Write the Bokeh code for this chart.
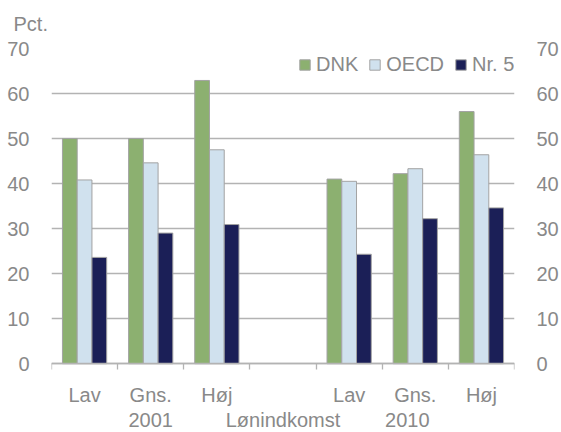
from bokeh.plotting import figure
from bokeh.models import (FixedTicker, LinearAxis, Legend, LegendItem,
                          Range1d, ColumnDataSource, Grid)
from bokeh.embed import file_html
from bokeh.resources import INLINE

# ---- data ----
categories = ["Lav", "Gns.", "Høj", "", "Lav", "Gns.", "Høj"]
dnk = [50.0, 50.0, 62.9, None, 41.0, 42.2, 56.0]
oecd = [40.8, 44.6, 47.5, None, 40.5, 43.3, 46.4]
nr5 = [23.6, 29.0, 30.9, None, 24.3, 32.2, 34.6]
series_names = ["DNK", "OECD", "Nr. 5"]
group_labels = ["2001", "Lønindkomst", "2010"]
y_ticks = [0, 10, 20, 30, 40, 50, 60, 70]
y_label = "Pct."

# ---- styles ----
FONT = "Liberation Sans"
FS = "20px"
TXT = "#898989"
GRID = "#b3b3b3"
colors = ["#8cb070", "#d0e1ee", "#1b1f57"]
bar_w = 0.223
offsets = [-bar_w, 0.0, bar_w]
group_pos = [1.5, 3.5, 5.38]
y_min = -15.29  # extra room below zero for the category label rows

p = figure(width=561, height=432,
           x_range=Range1d(0, len(categories)), y_range=Range1d(y_min, 70),
           x_axis_type=None, y_axis_type=None,
           output_backend="svg", toolbar_location=None,
           min_border_left=51, min_border_right=38, min_border_top=47,
           min_border_bottom=0, outline_line_color=None,
           background_fill_color="white", border_fill_color="white")

p.title.text = y_label
p.title.align = "left"
p.title.offset = -38
p.title.standoff = 24
p.title.vertical_align = "top"
p.title.text_font = FONT
p.title.text_font_size = FS
p.title.text_font_style = "normal"
p.title.text_color = TXT

yticker = FixedTicker(ticks=y_ticks)
p.add_layout(Grid(dimension=1, ticker=yticker, grid_line_color=GRID,
                  grid_line_width=1.3), "center")

items = []
for name, vals, col, off in zip(series_names, [dnk, oecd, nr5], colors, offsets):
    xs = [i + 0.5 + off for i, v in enumerate(vals) if v is not None]
    ys = [v for v in vals if v is not None]
    src = ColumnDataSource(dict(x=xs, top=ys))
    r = p.vbar(x="x", top="top", width=bar_w, bottom=0, source=src,
               fill_color=col, line_color="#a3a3a3", line_width=1)
    items.append(LegendItem(label=name, renderers=[r]))

def style_y(ax, standoff):
    ax.axis_line_color = None
    ax.major_tick_line_color = None
    ax.minor_tick_line_color = None
    ax.major_label_text_font = FONT
    ax.major_label_text_font_size = FS
    ax.major_label_text_color = TXT
    ax.major_label_standoff = standoff

ly = LinearAxis(ticker=yticker)
style_y(ly, 16)
p.add_layout(ly, "left")
ry = LinearAxis(ticker=yticker)
style_y(ry, 16)
p.add_layout(ry, "right")

# bottom category axis, drawn at y = 0
centers = [i + 0.5 for i in range(len(categories))]
bx = LinearAxis(ticker=FixedTicker(ticks=centers,
                                   minor_ticks=list(range(len(categories) + 1))),
                fixed_location=0)
bx.major_label_overrides = {c: lab for c, lab in zip(centers, categories)}
bx.axis_line_color = GRID
bx.axis_line_width = 1.3
bx.major_tick_line_color = None
bx.major_tick_out = 0
bx.major_tick_in = 0
bx.minor_tick_line_color = GRID
bx.minor_tick_line_width = 1.3
bx.minor_tick_out = 6
bx.minor_tick_in = 0
bx.major_label_text_font = FONT
bx.major_label_text_font_size = FS
bx.major_label_text_color = TXT
bx.major_label_standoff = 14
p.add_layout(bx, "below")

gx = LinearAxis(ticker=FixedTicker(ticks=group_pos), fixed_location=0)
gx.major_label_overrides = {c: lab for c, lab in zip(group_pos, group_labels)}
gx.axis_line_color = None
gx.major_tick_line_color = None
gx.minor_tick_line_color = None
gx.major_tick_out = 0
gx.major_tick_in = 0
gx.major_label_text_font = FONT
gx.major_label_text_font_size = FS
gx.major_label_text_color = TXT
gx.major_label_standoff = 45
p.add_layout(gx, "below")

legend = Legend(items=items, orientation="horizontal", location=(247, 356),
                padding=0, margin=0, spacing=10, label_standoff=5,
                glyph_width=13, glyph_height=13, label_height=20,
                label_text_font=FONT, label_text_font_size=FS,
                label_text_color=TXT, border_line_color=None,
                background_fill_alpha=0)
p.add_layout(legend, "center")

open("out.html", "w").write(file_html(p, INLINE))
